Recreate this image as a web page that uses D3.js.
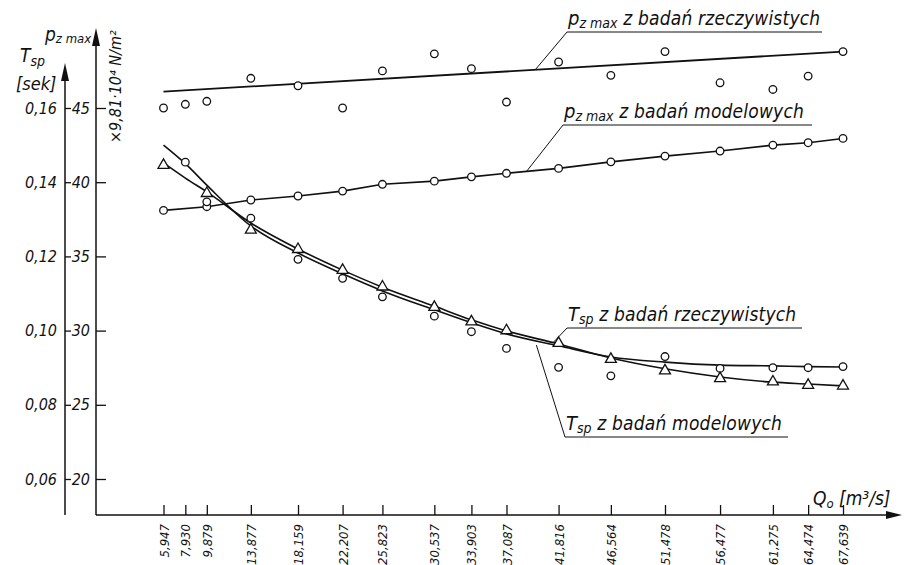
<html>
<script src='https://d3js.org/d3.v7.min.js'></script>
<style>
    body { margin: 0; background: #fff; }
    text {
        font-family: 'DejaVu Sans Condensed', 'Liberation Sans Narrow', 'DejaVu Sans', sans-serif;
        font-style: italic;
        fill: #111;
    }
</style>
<body>
<svg class="chart" width=904 height=565></svg>

<script>
// discharge Q0 [m3/s] at the measurement points
const qValues = [5.947, 7.930, 9.879, 13.877, 18.159, 22.207, 25.823, 30.537, 33.903, 37.087,
                 41.816, 46.564, 51.478, 56.477, 61.275, 64.474, 67.639];
const qLabels = ["5,947", "7,930", "9,879", "13,877", "18,159", "22,207", "25,823", "30,537", "33,903", "37,087",
                 "41,816", "46,564", "51,478", "56,477", "61,275", "64,474", "67,639"];

// p z max  (x 9,81*10^4 N/m2)
const pReal  = [45.0, 45.25, 45.45, 47.0, 46.5, 45.0, 47.5, 48.65, 47.65, 45.4,
                48.1, 47.2, 48.8, 46.7, 46.25, 47.15, 48.8];
const pRealFit = [46.1, 48.8];   // fitted straight line at first and last Q
const pModel = [38.1, null, 38.35, 38.8, 39.07, 39.4, 39.86, 40.07, 40.36, 40.6,
                40.93, 41.37, 41.76, 42.1, 42.5, 42.66, 42.95];

// T sp [sek]
const tReal  = [null, 0.1454, 0.1347, 0.1303, 0.1192, 0.1141, 0.1091, 0.1039, 0.0997, 0.0952,
                0.0901, 0.0878, 0.0930, 0.0898, 0.0900, 0.0900, 0.0903];
const tModel = [0.1446, null, 0.1370, 0.1271, 0.1219, 0.1163, 0.1118, 0.1063, 0.1024, 0.1000,
                0.0966, 0.0923, 0.0892, 0.0871, 0.0862, 0.0853, 0.0851];
// smoothed curves drawn through them
const tRealCurve  = [0.1500, 0.1450, 0.1392, 0.1282, 0.1209, 0.1153, 0.1107, 0.1056, 0.1021, 0.0991,
                     0.0959, 0.0929, 0.0915, 0.0907, 0.0905, 0.0903, 0.0902];
const tModelCurve = [0.1452, 0.1411, 0.1374, 0.1290, 0.1220, 0.1163, 0.1117, 0.1066, 0.1029, 0.0999,
                     0.0964, 0.0926, 0.0897, 0.0875, 0.0861, 0.0856, 0.0851];

const tTicks = [0.06, 0.08, 0.10, 0.12, 0.14, 0.16];
const tTickLabels = ["0,06", "0,08", "0,10", "0,12", "0,14", "0,16"];
const pTicks = [20, 25, 30, 35, 40, 45];

let svg = d3.select('.chart');
let tAxisX = 65, pAxisX = 96, xAxisY = 515;

let xs = d3.scaleLinear().domain([0, 67.639]).range([98, 843]);
let ts = d3.scaleLinear().domain([0.06, 0.16]).range([479, 108]);
let ps = d3.scaleLinear().domain([20, 45]).range([479, 108]);

function arrowUp(x, tip) {
    svg.append('path').attr('d', `M${x},${tip}L${x-4},${tip+18}L${x+4},${tip+18}Z`).attr('fill', '#111');
}

// ---- x axis
let x_axis = d3.axisBottom(xs).tickValues(qValues).tickFormat((d, i) => qLabels[i])
    .tickSize(-10).tickSizeOuter(0);
let gx = svg.append('g').attr('transform', 'translate(0,' + xAxisY + ')').call(x_axis);
gx.select('.domain').remove();
gx.selectAll('.tick line').attr('stroke', '#111').attr('stroke-width', 1.3);
gx.selectAll('.tick text')
    .attr('transform', 'rotate(-90)')
    .attr('text-anchor', 'end')
    .attr('x', -9).attr('y', 0).attr('dy', '0.35em')
    .style('font-size', '13px');
svg.append('line').attr('x1', pAxisX).attr('x2', 890).attr('y1', xAxisY).attr('y2', xAxisY)
    .attr('stroke', '#111').attr('stroke-width', 1.5);
svg.append('path').attr('d', `M902,${xAxisY}L886,${xAxisY-4}L886,${xAxisY+4}Z`).attr('fill', '#111');

// ---- T sp axis
let t_axis = d3.axisRight(ts).tickValues(tTicks).tickFormat((d, i) => tTickLabels[i]).tickSize(6);
let gt = svg.append('g').attr('transform', 'translate(' + tAxisX + ',0)').call(t_axis);
gt.select('.domain').remove();
gt.selectAll('.tick line').attr('stroke', '#111').attr('stroke-width', 1.3);
gt.selectAll('.tick text').attr('x', -8).attr('text-anchor', 'end').style('font-size', '16px');
svg.append('line').attr('x1', tAxisX).attr('x2', tAxisX).attr('y1', 75).attr('y2', xAxisY)
    .attr('stroke', '#111').attr('stroke-width', 1.5);
arrowUp(tAxisX, 63);

// ---- p z max axis
let p_axis = d3.axisRight(ps).tickValues(pTicks).tickSize(10);
let gp = svg.append('g').attr('transform', 'translate(' + pAxisX + ',0)').call(p_axis);
gp.select('.domain').remove();
gp.selectAll('.tick line').attr('stroke', '#111').attr('stroke-width', 1.3);
gp.selectAll('.tick text').attr('x', -6).attr('text-anchor', 'end').style('font-size', '16px');
svg.append('line').attr('x1', pAxisX).attr('x2', pAxisX).attr('y1', 40).attr('y2', xAxisY)
    .attr('stroke', '#111').attr('stroke-width', 1.5);
arrowUp(pAxisX, 28);

// axis titles
let tt = svg.append('text').attr('x', 20).attr('y', 62).style('font-size', '19px');
tt.append('tspan').text('T');
tt.append('tspan').attr('dy', 4).style('font-size', '14px').text('sp');
svg.append('text').attr('x', 16).attr('y', 90).style('font-size', '18px').text('[sek]');

let pt = svg.append('text').attr('x', 45).attr('y', 41).style('font-size', '19px');
pt.append('tspan').text('p');
pt.append('tspan').attr('dy', 2).style('font-size', '13px').text('z max');

svg.append('text').attr('transform', 'translate(121,143) rotate(-90)')
    .style('font-size', '16px').text('×9,81·10⁴ N/m²');

let qt = svg.append('text').attr('x', 813).attr('y', 505).style('font-size', '19px');
qt.append('tspan').text('Q');
qt.append('tspan').attr('dy', 3).style('font-size', '13px').text('o');
qt.append('tspan').attr('dy', -3).text(' [m³/s]');

// ---- series
let rows = qValues.map((q, i) => ({q: q, pr: pReal[i], pm: pModel[i], tr: tReal[i], tm: tModel[i],
                                    trc: tRealCurve[i], tmc: tModelCurve[i]}));

// p real: fitted straight line
let fitRows = [{q: qValues[0], v: pRealFit[0]}, {q: qValues[qValues.length - 1], v: pRealFit[1]}];
svg.append('path').datum(fitRows)
    .attr('fill', 'none').attr('stroke', '#111').attr('stroke-width', 1.8)
    .attr('d', d3.line().x(d => xs(d.q)).y(d => ps(d.v)));

// p model: line through points
svg.append('path').datum(rows.filter(d => d.pm != null))
    .attr('fill', 'none').attr('stroke', '#111').attr('stroke-width', 1.6)
    .attr('d', d3.line().x(d => xs(d.q)).y(d => ps(d.pm)));

// T curves
svg.append('path').datum(rows)
    .attr('fill', 'none').attr('stroke', '#111').attr('stroke-width', 1.6)
    .attr('d', d3.line().curve(d3.curveMonotoneX).x(d => xs(d.q)).y(d => ts(d.trc)));
svg.append('path').datum(rows)
    .attr('fill', 'none').attr('stroke', '#111').attr('stroke-width', 1.6)
    .attr('d', d3.line().curve(d3.curveMonotoneX).x(d => xs(d.q)).y(d => ts(d.tmc)));

// markers
function circles(data, yf) {
    svg.append('g').selectAll('circle').data(data).join('circle')
        .attr('cx', d => xs(d.q)).attr('cy', yf).attr('r', 3.8)
        .attr('fill', '#fff').attr('stroke', '#111').attr('stroke-width', 1.3);
}
circles(rows.filter(d => d.pr != null), d => ps(d.pr));
circles(rows.filter(d => d.pm != null), d => ps(d.pm));
circles(rows.filter(d => d.tr != null), d => ts(d.tr));

svg.append('g').selectAll('path').data(rows.filter(d => d.tm != null)).join('path')
    .attr('d', d3.symbol().type(d3.symbolTriangle).size(52))
    .attr('transform', d => 'translate(' + xs(d.q) + ',' + ts(d.tm) + ')')
    .attr('fill', '#fff').attr('stroke', '#111').attr('stroke-width', 1.3);

// ---- leader annotations
function annotate(x0, x1, yl, main, sub, rest, ax, ay) {
    svg.append('line').attr('x1', x0).attr('x2', x1).attr('y1', yl).attr('y2', yl)
        .attr('stroke', '#111').attr('stroke-width', 1);
    svg.append('line').attr('x1', x0).attr('x2', ax).attr('y1', yl).attr('y2', ay)
        .attr('stroke', '#111').attr('stroke-width', 1);
    let t = svg.append('text').attr('x', x0 + 1).attr('y', yl - 7).style('font-size', '20px');
    t.append('tspan').text(main);
    t.append('tspan').attr('dy', 3).style('font-size', '14px').text(sub);
    t.append('tspan').attr('dy', -3).style('font-size', '19px').style('letter-spacing', '0.2px').text(rest);
}
let fitAt = q => pRealFit[0] + (pRealFit[1] - pRealFit[0]) * (q - qValues[0]) / (qValues[16] - qValues[0]);
annotate(567, 822, 32, 'p', 'z max', ' z badań rzeczywistych', xs(39.7), ps(fitAt(39.7)));
annotate(563, 812, 125, 'p', 'z max', ' z badań modelowych', xs(38.9), ps(40.72));
annotate(567, 802, 328, 'T', 'sp', '  z badań  rzeczywistych', xs(41.3), ts(0.0967));
annotate(565, 788, 437, 'T', 'sp', '  z badań  modelowych', xs(39.8), ts(0.0961));
</script>
</body>
</html>
